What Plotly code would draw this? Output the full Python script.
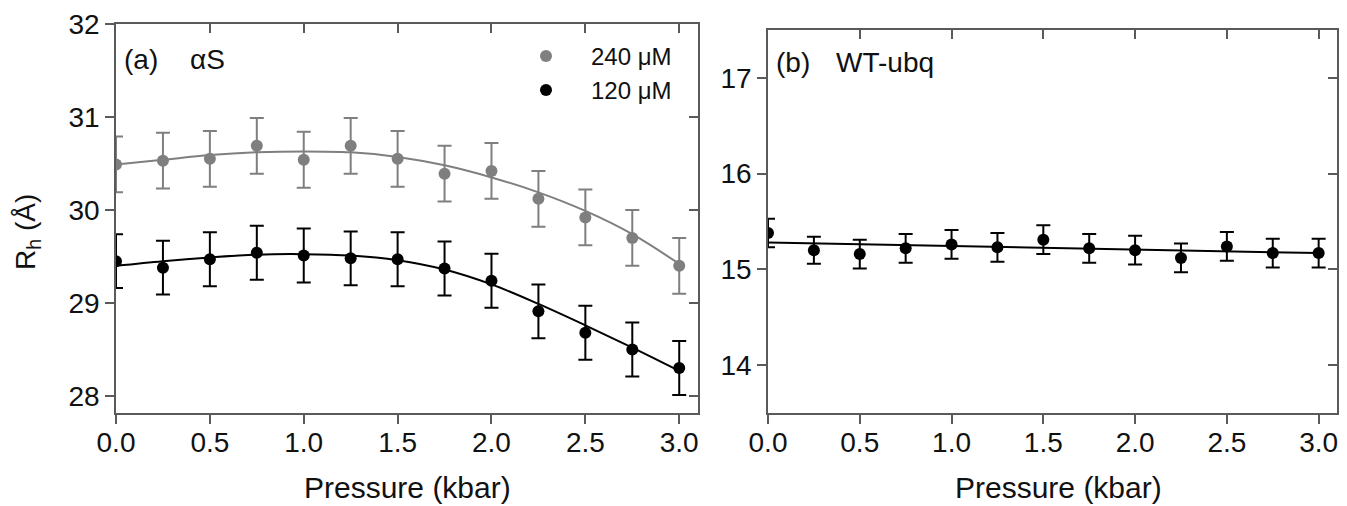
import plotly.graph_objects as go

# ---------------- data ----------------
pressure = [0.0, 0.25, 0.5, 0.75, 1.0, 1.25, 1.5, 1.75, 2.0, 2.25, 2.5, 2.75, 3.0]

rh_240 = [30.49, 30.53, 30.55, 30.69, 30.54, 30.69, 30.55, 30.39, 30.42, 30.12, 29.92, 29.70, 29.40]
err_240 = [0.30, 0.30, 0.30, 0.30, 0.30, 0.30, 0.30, 0.30, 0.30, 0.30, 0.30, 0.30, 0.30]
fit_240 = [30.49, 30.54, 30.59, 30.62, 30.63, 30.62, 30.57, 30.48, 30.35, 30.19, 29.99, 29.74, 29.42]

rh_120 = [29.45, 29.38, 29.47, 29.54, 29.51, 29.48, 29.47, 29.37, 29.24, 28.91, 28.68, 28.50, 28.30]
err_120 = [0.29, 0.29, 0.29, 0.29, 0.29, 0.29, 0.29, 0.29, 0.29, 0.29, 0.29, 0.29, 0.29]
fit_120 = [29.40, 29.45, 29.49, 29.52, 29.525, 29.51, 29.46, 29.36, 29.20, 28.99, 28.76, 28.52, 28.27]

rh_wt = [15.38, 15.20, 15.16, 15.22, 15.26, 15.23, 15.31, 15.22, 15.20, 15.12, 15.24, 15.17, 15.17]
err_wt = [0.15, 0.14, 0.15, 0.15, 0.15, 0.15, 0.15, 0.15, 0.15, 0.15, 0.15, 0.15, 0.15]
fit_wt_x = [0.0, 3.0]
fit_wt = [15.28, 15.17]

x_ticks = [0.0, 0.5, 1.0, 1.5, 2.0, 2.5, 3.0]
y_ticks_a = [28, 29, 30, 31, 32]
y_ticks_b = [14, 15, 16, 17]

# ---------------- style ----------------
OFF = 8  # page body margin
W, H = 1347 - 2 * OFF, 506 - OFF
GRAY = "#7f7f7f"
BLACK = "#000000"
AXC = "#5a5a5a"
FONT = "Liberation Sans, Arial, sans-serif"

def px_x(v):
    return (v - OFF) / W

def px_y(v):
    return 1 - (v - OFF) / H

xa_dom = [px_x(116), px_x(698)]
xb_dom = [px_x(768), px_x(1337)]
ya_dom = [px_y(413), px_y(24)]
yb_dom = [px_y(413), px_y(30)]
x_range = [0, 3.1]
ya_range = [27.817, 32]
yb_range = [13.5, 17.5]

fig = go.Figure()

eb = lambda arr, c: dict(type="data", array=arr, visible=True, color=c, thickness=2, width=7)

fig.add_trace(go.Scatter(x=pressure, y=rh_240, mode="markers", name="240 \u03bcM",
                         marker=dict(color=GRAY, size=12), error_y=eb(err_240, GRAY),
                         xaxis="x", yaxis="y", legend="legend"))
fig.add_trace(go.Scatter(x=pressure, y=rh_120, mode="markers", name="120 \u03bcM",
                         marker=dict(color=BLACK, size=12), error_y=eb(err_120, BLACK),
                         xaxis="x", yaxis="y", legend="legend2"))
fig.add_trace(go.Scatter(x=pressure, y=fit_240, mode="lines", line=dict(color=GRAY, width=2, shape="spline"),
                         showlegend=False, xaxis="x3", yaxis="y3", hoverinfo="skip"))
fig.add_trace(go.Scatter(x=pressure, y=fit_120, mode="lines", line=dict(color=BLACK, width=2, shape="spline"),
                         showlegend=False, xaxis="x3", yaxis="y3", hoverinfo="skip"))

fig.add_trace(go.Scatter(x=pressure, y=rh_wt, mode="markers", showlegend=False,
                         marker=dict(color=BLACK, size=12), error_y=eb(err_wt, BLACK),
                         xaxis="x2", yaxis="y2"))
fig.add_trace(go.Scatter(x=fit_wt_x, y=fit_wt, mode="lines", line=dict(color=BLACK, width=2),
                         showlegend=False, xaxis="x4", yaxis="y4", hoverinfo="skip"))

tickfont = dict(family=FONT, size=28, color="#111111")

def base_axis(**kw):
    d = dict(showgrid=False, zeroline=False, showline=True, linecolor=AXC, linewidth=1.5,
             tickcolor=AXC, tickwidth=1.5, ticklen=9, tickfont=tickfont, automargin=False)
    d.update(kw)
    return d

leg_font = dict(family=FONT, size=24, color="#111111")

fig.update_layout(
    template="none",
    width=W, height=H,
    margin=dict(l=0, r=0, t=0, b=0, pad=0),
    paper_bgcolor="white", plot_bgcolor="white",
    xaxis=base_axis(domain=xa_dom, range=x_range, anchor="y", tickvals=x_ticks, tickformat=".1f",
                    ticks="outside", ticklabelstandoff=-5),
    yaxis=base_axis(domain=ya_dom, range=ya_range, anchor="x", tickvals=y_ticks_a, ticks="outside"),
    xaxis3=base_axis(range=x_range, overlaying="x", anchor="y3", side="top", tickvals=x_ticks,
                     ticks="inside", showticklabels=False),
    yaxis3=base_axis(range=ya_range, overlaying="y", anchor="x3", side="right", tickvals=y_ticks_a,
                     ticks="inside", showticklabels=False),
    xaxis2=base_axis(domain=xb_dom, range=x_range, anchor="y2", tickvals=x_ticks, tickformat=".1f",
                     ticks="outside", ticklabelstandoff=-5),
    yaxis2=base_axis(domain=yb_dom, range=yb_range, anchor="x2", tickvals=y_ticks_b, ticks="outside"),
    xaxis4=base_axis(range=x_range, overlaying="x2", anchor="y4", side="top", tickvals=x_ticks,
                     ticks="inside", showticklabels=False),
    yaxis4=base_axis(range=yb_range, overlaying="y2", anchor="x4", side="right", tickvals=y_ticks_b,
                     ticks="inside", showticklabels=False),
    legend=dict(x=px_x(501), y=px_y(34), xanchor="left", yanchor="top", itemwidth=80,
                font=leg_font, bgcolor="rgba(0,0,0,0)"),
    legend2=dict(x=px_x(501), y=px_y(68), xanchor="left", yanchor="top", itemwidth=80,
                 font=leg_font, bgcolor="rgba(0,0,0,0)"),
    showlegend=True,
)

ann_font = dict(family=FONT, size=28, color="#111111")
annots = [
    dict(text="(a)", x=px_x(122), y=px_y(60), xanchor="left", yanchor="middle", font=ann_font),
    dict(text="\u03b1S", x=px_x(188), y=px_y(60), xanchor="left", yanchor="middle", font=ann_font),
    dict(text="(b)", x=px_x(774), y=px_y(62), xanchor="left", yanchor="middle", font=ann_font),
    dict(text="WT-ubq", x=px_x(834), y=px_y(62), xanchor="left", yanchor="middle", font=ann_font),
    dict(text="Pressure (kbar)", x=px_x(407), y=px_y(487), xanchor="center", yanchor="middle",
         font=dict(family=FONT, size=30, color="#111111")),
    dict(text="Pressure (kbar)", x=px_x(1058), y=px_y(487), xanchor="center", yanchor="middle",
         font=dict(family=FONT, size=30, color="#111111")),
    dict(text="R<sub>h</sub> (\u00c5)", x=px_x(27), y=px_y(232), xanchor="center", yanchor="middle",
         textangle=-90, font=dict(family=FONT, size=28, color="#111111")),
]
for a in annots:
    a.update(xref="paper", yref="paper", showarrow=False)
fig.update_layout(annotations=annots)

fig.write_html("out.html")
